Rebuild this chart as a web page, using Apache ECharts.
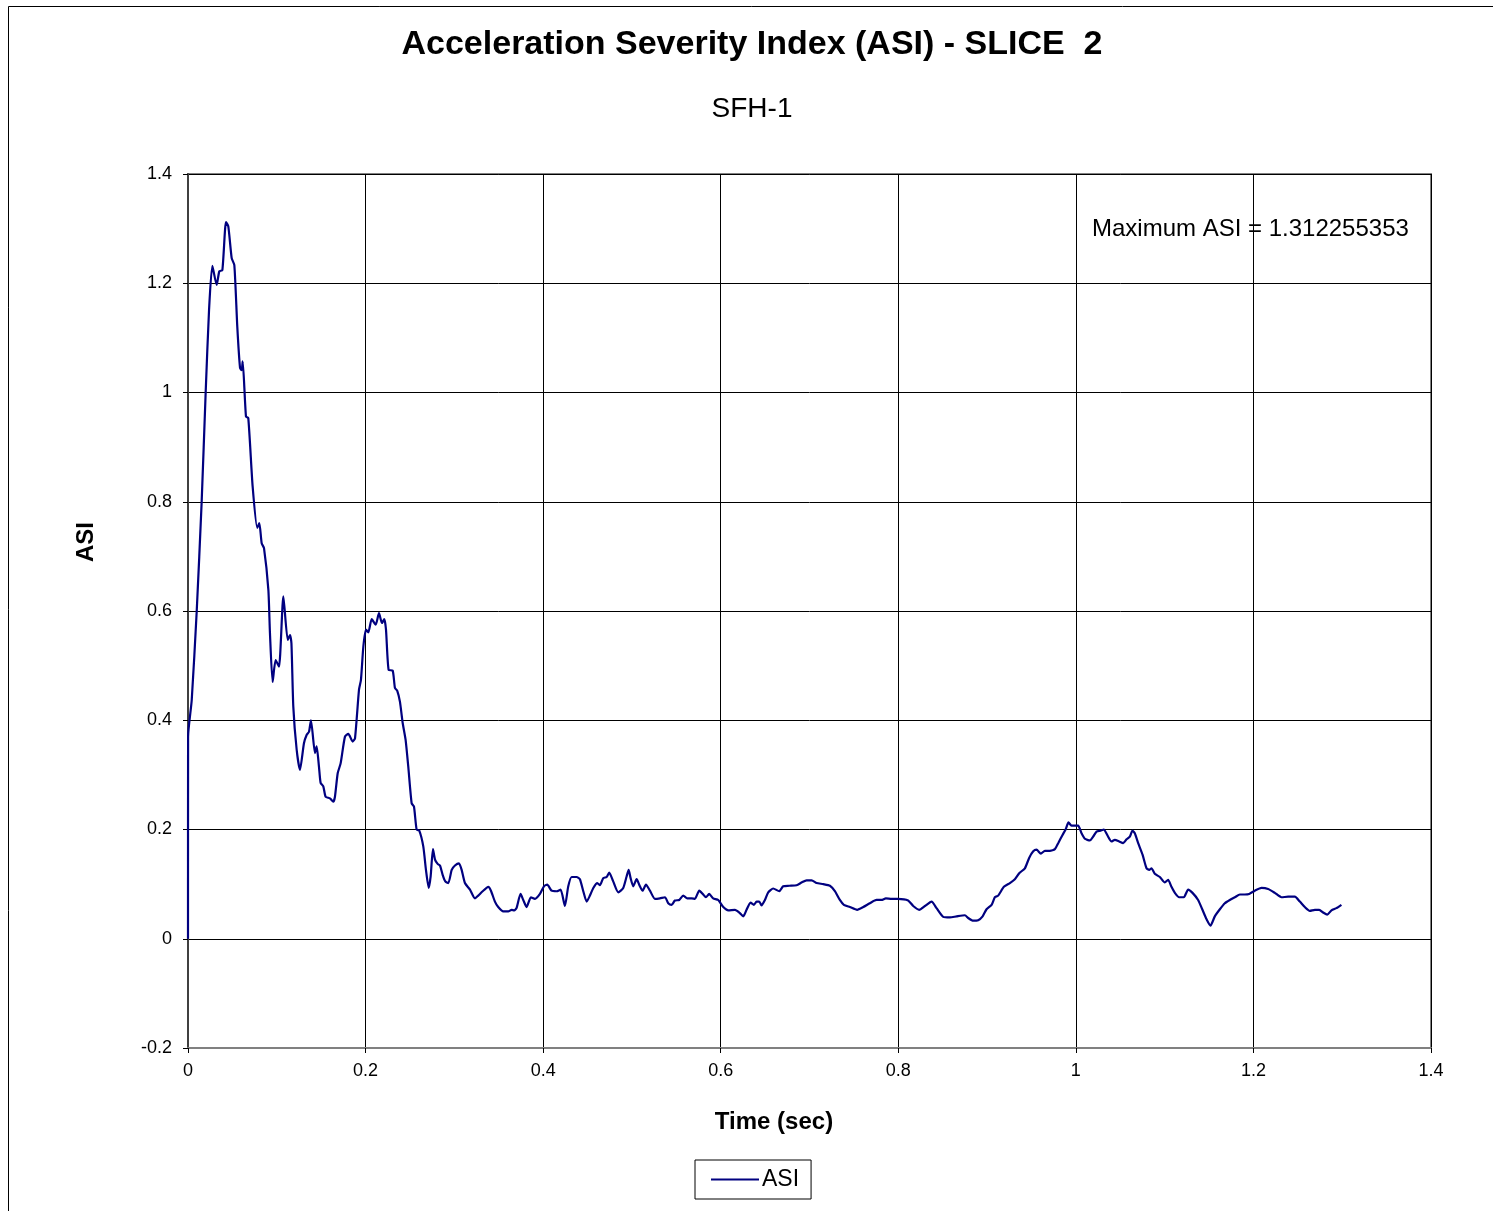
<!DOCTYPE html>
<html><head><meta charset="utf-8">
<script src="https://cdn.jsdelivr.net/npm/echarts@6/dist/echarts.min.js"></script>
<style>html,body{margin:0;padding:0;background:#fff}#c{width:1493px;height:1211px}</style>
</head><body><div id="c"></div>
<script>
const titleText = 'Acceleration Severity Index (ASI) - SLICE  2';
const subtitleText = 'SFH-1';
const xAxisName = 'Time (sec)';
const yAxisName = 'ASI';
const seriesName = 'ASI';
const annotation = 'Maximum ASI = 1.312255353';
const timeValues = [0,0.0001,0.0042,0.0098,0.0154,0.0199,0.0237,0.0274,0.0323,0.0353,0.0387,0.0428,0.0454,0.0492,0.0522,0.0555,0.0586,0.0604,0.0616,0.0653,0.0679,0.0728,0.078,0.0803,0.083,0.0856,0.0905,0.0923,0.0953,0.0987,0.1025,0.1074,0.1123,0.1149,0.1165,0.1186,0.1224,0.1261,0.1306,0.1336,0.1363,0.1385,0.143,0.1449,0.1475,0.1494,0.1524,0.155,0.1599,0.1636,0.1655,0.1686,0.1719,0.1768,0.1806,0.1855,0.1881,0.1926,0.1948,0.1975,0.2005,0.2031,0.2069,0.2114,0.2151,0.2185,0.2211,0.223,0.226,0.2305,0.2331,0.2357,0.2387,0.2418,0.2451,0.2481,0.2519,0.2545,0.2575,0.2605,0.265,0.268,0.2711,0.2733,0.2759,0.2782,0.2812,0.2838,0.2868,0.2898,0.2932,0.297,0.3007,0.3052,0.3082,0.3119,0.3176,0.3232,0.3269,0.3319,0.3382,0.3412,0.3457,0.3494,0.3551,0.3607,0.3645,0.3674,0.37,0.3746,0.3776,0.3814,0.3862,0.3908,0.3964,0.4009,0.4046,0.4095,0.4152,0.4197,0.4245,0.4283,0.4321,0.4377,0.4414,0.4452,0.449,0.4527,0.4565,0.461,0.464,0.4677,0.4715,0.4744,0.4789,0.4846,0.4902,0.494,0.4963,0.4985,0.5015,0.5053,0.509,0.512,0.5158,0.5203,0.5259,0.5315,0.5372,0.5409,0.5447,0.5484,0.5533,0.5578,0.5623,0.5672,0.5709,0.5758,0.5803,0.5833,0.587,0.5915,0.5972,0.6029,0.6085,0.616,0.6209,0.6254,0.6291,0.6336,0.6374,0.6404,0.6434,0.646,0.6498,0.6535,0.6591,0.6659,0.6704,0.6772,0.6855,0.6911,0.6967,0.7024,0.708,0.7155,0.723,0.7286,0.7342,0.7387,0.7455,0.7537,0.7605,0.768,0.7755,0.7811,0.786,0.7924,0.7999,0.8111,0.8168,0.8235,0.83,0.8375,0.8431,0.8506,0.8581,0.8656,0.875,0.8787,0.8844,0.89,0.895,0.8994,0.9051,0.9088,0.9125,0.9189,0.9257,0.9313,0.9362,0.9426,0.9474,0.952,0.9557,0.9606,0.9651,0.9707,0.9764,0.9801,0.985,0.9887,0.9917,0.9951,0.9988,1.0026,1.0064,1.0101,1.0158,1.0195,1.0233,1.0278,1.0315,1.0353,1.0402,1.0439,1.0488,1.0533,1.0571,1.0608,1.0638,1.0664,1.0702,1.0751,1.0796,1.0826,1.0852,1.0889,1.0946,1.1002,1.1039,1.1077,1.1115,1.1163,1.1216,1.1265,1.1314,1.1377,1.1426,1.1471,1.1516,1.1565,1.1622,1.1678,1.1734,1.1791,1.1847,1.1903,1.1952,1.2016,1.2091,1.2166,1.2241,1.2316,1.2391,1.2466,1.2523,1.2579,1.2635,1.2692,1.2741,1.2785,1.2831,1.2879,1.2935,1.2991];
const asiValues = [0,0.37,0.437,0.599,0.80,1.0,1.151,1.232,1.197,1.222,1.224,1.312,1.304,1.246,1.233,1.121,1.045,1.041,1.057,0.956,0.953,0.828,0.752,0.761,0.724,0.715,0.639,0.56,0.470,0.510,0.498,0.627,0.547,0.556,0.541,0.425,0.346,0.309,0.358,0.373,0.379,0.40,0.34,0.352,0.315,0.285,0.279,0.26,0.257,0.251,0.26,0.303,0.321,0.37,0.375,0.361,0.367,0.456,0.474,0.535,0.566,0.561,0.585,0.575,0.596,0.578,0.585,0.566,0.492,0.491,0.459,0.454,0.434,0.395,0.364,0.315,0.248,0.242,0.2,0.198,0.169,0.126,0.093,0.114,0.164,0.145,0.137,0.134,0.117,0.105,0.102,0.126,0.134,0.138,0.126,0.102,0.09,0.074,0.079,0.087,0.095,0.088,0.068,0.058,0.05,0.05,0.053,0.052,0.056,0.082,0.071,0.058,0.076,0.073,0.082,0.096,0.099,0.088,0.087,0.09,0.06,0.096,0.113,0.113,0.109,0.087,0.068,0.079,0.093,0.102,0.098,0.111,0.113,0.121,0.105,0.085,0.093,0.114,0.126,0.111,0.096,0.109,0.096,0.088,0.099,0.088,0.073,0.074,0.076,0.065,0.062,0.07,0.071,0.079,0.074,0.074,0.073,0.088,0.081,0.076,0.082,0.074,0.071,0.058,0.052,0.053,0.048,0.041,0.053,0.066,0.062,0.068,0.068,0.061,0.071,0.085,0.092,0.087,0.096,0.097,0.098,0.103,0.107,0.107,0.102,0.1,0.097,0.087,0.071,0.062,0.058,0.053,0.058,0.065,0.071,0.071,0.074,0.073,0.073,0.07,0.06,0.053,0.06,0.068,0.056,0.04,0.039,0.041,0.043,0.038,0.033,0.034,0.041,0.054,0.062,0.076,0.079,0.095,0.102,0.109,0.12,0.129,0.148,0.16,0.163,0.156,0.161,0.161,0.164,0.175,0.19,0.201,0.213,0.207,0.207,0.207,0.193,0.183,0.18,0.187,0.196,0.198,0.2,0.19,0.178,0.181,0.178,0.175,0.182,0.187,0.198,0.193,0.175,0.154,0.129,0.126,0.129,0.119,0.113,0.103,0.108,0.095,0.084,0.076,0.076,0.09,0.084,0.071,0.053,0.036,0.024,0.041,0.054,0.065,0.071,0.076,0.081,0.081,0.082,0.088,0.093,0.091,0.084,0.076,0.077,0.077,0.068,0.058,0.051,0.053,0.053,0.048,0.044,0.052,0.056,0.062];

const chart = echarts.init(document.getElementById('c'), null, {renderer: 'canvas'});
const FONT = '"Liberation Sans", Arial, sans-serif';
chart.setOption({
  backgroundColor: '#fff',
  animation: false,
  textStyle: {fontFamily: FONT},
  legend: {
    data: [seriesName], left: 695, top: 1160,
    borderColor: '#000', borderWidth: 1, padding: [8, 12, 8, 16],
    itemWidth: 48, itemHeight: 2, itemGap: 4,
    icon: 'rect',
    textStyle: {fontFamily: FONT, fontSize: 23, color: '#000', padding: [0, 0, 0, -2]}
  },
  grid: {left: 188, right: 62, top: 174, bottom: 163, show: true, borderColor: '#808080', borderWidth: 2, containLabel: false},
  xAxis: {
    type: 'value', min: 0, max: 1.4, interval: 0.2,
    axisLine: {show: true, onZero: false, lineStyle: {color: '#808080', width: 2}},
    axisTick: {show: true, length: 5, lineStyle: {color: '#000'}},
    axisLabel: {fontFamily: FONT, fontSize: 18, color: '#000', margin: 14},
    splitLine: {show: true, lineStyle: {color: '#000', width: 1}}
  },
  yAxis: {
    type: 'value', min: -0.2, max: 1.4, interval: 0.2,
    axisLine: {show: true, onZero: false, lineStyle: {color: '#404040', width: 2}},
    axisTick: {show: true, length: 5, lineStyle: {color: '#000'}},
    axisLabel: {fontFamily: FONT, fontSize: 18, color: '#000', margin: 16,
      formatter: v => String(Math.round(v * 10) / 10)},
    splitLine: {show: true, lineStyle: {color: '#000', width: 1}}
  },
  graphic: [
    {type: 'rect', shape: {x: 8.5, y: 6.5, width: 1600, height: 1300}, style: {fill: null, stroke: '#000', lineWidth: 1}, silent: true, z: 100},
    {type: 'text', x: 752, y: 45, style: {text: titleText, fontFamily: FONT, fontSize: 34, fontWeight: 'bold', fill: '#000', align: 'center', verticalAlign: 'middle'}, z: 100},
    {type: 'text', x: 752, y: 109, style: {text: subtitleText, fontFamily: FONT, fontSize: 28, fill: '#000', align: 'center', verticalAlign: 'middle'}, z: 100},
    {type: 'text', x: 774, y: 1122, style: {text: xAxisName, fontFamily: FONT, fontSize: 24, fontWeight: 'bold', fill: '#000', align: 'center', verticalAlign: 'middle'}, z: 100},
    {type: 'text', x: 86, y: 542, rotation: Math.PI / 2, style: {text: yAxisName, fontFamily: FONT, fontSize: 24, fontWeight: 'bold', fill: '#000', align: 'center', verticalAlign: 'middle'}, z: 100},
    {type: 'text', x: 1092, y: 229, style: {text: annotation, fontFamily: FONT, fontSize: 24, fill: '#000', align: 'left', verticalAlign: 'middle'}, z: 100}
  ],
  series: [{
    name: seriesName, type: 'line', showSymbol: false, symbol: 'none',
    data: timeValues.map((t, i) => [t, asiValues[i]]),
    lineStyle: {color: '#000080', width: 2.2}, itemStyle: {color: '#000080'},
    smooth: 0.2, z: 10
  }]
});
</script></body></html>
